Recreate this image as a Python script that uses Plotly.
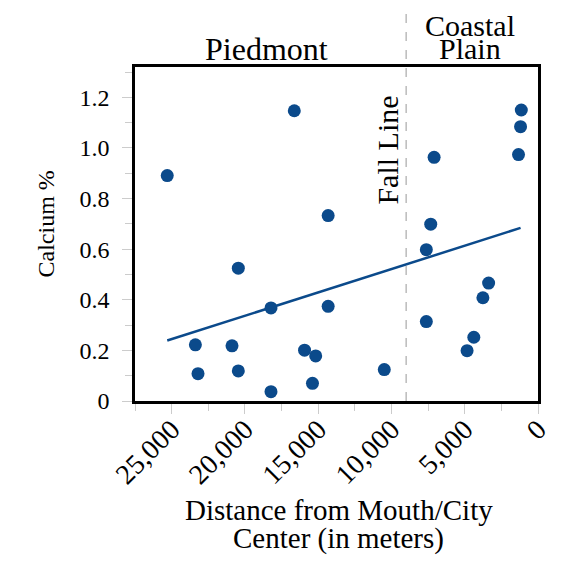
import plotly.graph_objects as go

# distance (m) and calcium %
distance = [25300, 16630, 14320, 20450, 18220, 14320, 23380, 20880, 23200, 20450,
            18220, 15930, 15170, 15390, 10490, 7090, 7320, 7620, 7620, 3370,
            3760, 4380, 4840, 1140, 1190, 1330]
calcium = [0.891, 1.147, 0.733, 0.525, 0.368, 0.374, 0.222, 0.218, 0.108, 0.119,
           0.037, 0.201, 0.178, 0.070, 0.124, 0.963, 0.699, 0.598, 0.314, 0.466,
           0.408, 0.252, 0.199, 1.150, 1.084, 0.974]

# trend line end points
trend_x = [25300, 1190]
trend_y = [0.239, 0.684]

fall_line = 9000
x_ticks = [0, 5000, 10000, 15000, 20000, 25000]
y_ticks = [0, 0.2, 0.4, 0.6, 0.8, 1.0, 1.2]
y_labels = ["0", "0.2", "0.4", "0.6", "0.8", "1.0", "1.2"]

blue = "#0b4a8b"
serif = "Liberation Serif"

fig = go.Figure()
fig.add_trace(go.Scatter(x=trend_x, y=trend_y, mode="lines",
                         line=dict(color=blue, width=2.5), hoverinfo="skip"))
fig.add_trace(go.Scatter(x=distance, y=calcium, mode="markers",
                         marker=dict(color=blue, size=13)))

# fall line
fig.add_shape(type="line", x0=fall_line, x1=fall_line, xref="x", y0=0, y1=1.165,
              yref="paper", line=dict(color="#999999", width=1, dash="dash"))

fig.add_annotation(x=fall_line + 1300, y=0.75, xref="x", yref="paper", text="Fall Line",
                   textangle=-90, xanchor="center", yanchor="middle",
                   showarrow=False, font=dict(size=30))
fig.add_annotation(x=18560, y=1.054, xref="x", yref="paper", text="Piedmont",
                   yanchor="middle", showarrow=False, font=dict(size=32))
fig.add_annotation(x=4660, y=1.124, xref="x", yref="paper", text="Coastal",
                   yanchor="middle", showarrow=False, font=dict(size=30))
fig.add_annotation(x=4660, y=1.054, xref="x", yref="paper", text="Plain",
                   yanchor="middle", showarrow=False, font=dict(size=30))

# axis titles, placed by hand to follow the reference
fig.add_annotation(x=0.505, y=-0.326, xref="paper", yref="paper",
                   text="Distance from Mouth/City", yanchor="middle",
                   showarrow=False, font=dict(size=29))
fig.add_annotation(x=0.505, y=-0.413, xref="paper", yref="paper",
                   text="Center (in meters)", yanchor="middle",
                   showarrow=False, font=dict(size=29))
fig.add_annotation(x=-0.222, y=0.53, xref="paper", yref="paper",
                   text="Calcium %", textangle=-90, xanchor="center", yanchor="middle",
                   showarrow=False, font=dict(size=24))

axis_common = dict(showline=True, linecolor="black", linewidth=2.5, mirror=True,
                   ticks="outside", tickcolor="#cccccc", ticklen=10, showgrid=False,
                   zeroline=False)

fig.update_xaxes(range=[27500, 0], tickvals=x_ticks, tickformat=",", tickangle=-45,
                 ticklabelstandoff=-12, tickfont=dict(size=28),
                 minor=dict(dtick=2500, ticks="outside", ticklen=7, tickcolor="#cccccc"),
                 **axis_common)
fig.update_yaxes(range=[0, 1.32], tickvals=y_ticks, ticktext=y_labels,
                 ticklabelstandoff=8, tickfont=dict(size=24),
                 minor=dict(dtick=0.1, ticks="outside", ticklen=7, tickcolor="#cccccc"),
                 **axis_common)

fig.update_layout(width=565, height=565, showlegend=False,
                  margin=dict(l=127, r=35, t=59, b=172),
                  plot_bgcolor="white", paper_bgcolor="white",
                  font=dict(family=serif, color="black"))

fig.write_html("out.html")
